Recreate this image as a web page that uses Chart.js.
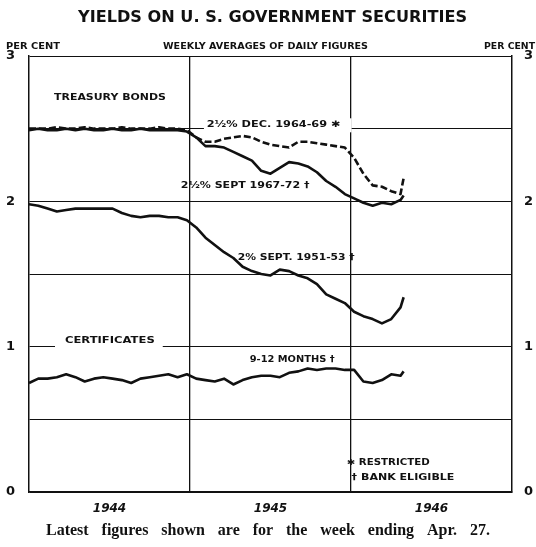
<!DOCTYPE html>
<html>
<head>
<meta charset="utf-8">
<script src="https://cdn.jsdelivr.net/npm/chart.js@4/dist/chart.umd.min.js"></script>
<style>
  html, body { margin: 0; padding: 0; background: #fff; }
  canvas { display: block; }
</style>
</head>
<body>
<canvas id="yields" width="536" height="547"></canvas>
<script>
// weeks since Jan 1 1944 (last point = week ending Apr. 27, 1946)
var weeks = [0, 3, 6, 9, 12, 15, 18, 21, 24, 27, 30, 33, 36, 39, 42, 45, 48, 51,
  54, 57, 60, 63, 66, 69, 72, 75, 78, 81, 84, 87, 90, 93, 96, 99, 102, 105,
  108, 111, 114, 117, 120, 121];

var decBonds = [2.50, 2.50, 2.50, 2.51, 2.50, 2.50, 2.51, 2.50, 2.50, 2.50, 2.51, 2.50,
  2.50, 2.50, 2.51, 2.50, 2.50, 2.49, 2.44, 2.41, 2.41, 2.43, 2.44, 2.45, 2.44,
  2.41, 2.39, 2.38, 2.37, 2.41, 2.41, 2.40, 2.39, 2.38, 2.37, 2.30, 2.19, 2.11,
  2.10, 2.07, 2.05, 2.16];

var septBonds = [2.49, 2.50, 2.49, 2.49, 2.50, 2.49, 2.50, 2.49, 2.49, 2.50, 2.49, 2.49,
  2.50, 2.49, 2.49, 2.49, 2.49, 2.48, 2.44, 2.38, 2.38, 2.37, 2.34, 2.31, 2.28,
  2.21, 2.19, 2.23, 2.27, 2.26, 2.24, 2.20, 2.14, 2.10, 2.05, 2.02, 1.99, 1.97,
  1.99, 1.98, 2.01, 2.04];

var twoPct = [1.98, 1.97, 1.95, 1.93, 1.94, 1.95, 1.95, 1.95, 1.95, 1.95, 1.92, 1.90,
  1.89, 1.90, 1.90, 1.89, 1.89, 1.87, 1.82, 1.75, 1.70, 1.65, 1.61, 1.55, 1.52,
  1.50, 1.49, 1.53, 1.52, 1.49, 1.47, 1.43, 1.36, 1.33, 1.30, 1.24, 1.21, 1.19,
  1.16, 1.19, 1.27, 1.34];

var certs = [0.75, 0.78, 0.78, 0.79, 0.81, 0.79, 0.76, 0.78, 0.79, 0.78, 0.77, 0.75,
  0.78, 0.79, 0.80, 0.81, 0.79, 0.81, 0.78, 0.77, 0.76, 0.78, 0.74, 0.77, 0.79,
  0.80, 0.80, 0.79, 0.82, 0.83, 0.85, 0.84, 0.85, 0.85, 0.84, 0.84, 0.76, 0.75,
  0.77, 0.81, 0.80, 0.83];

var yearLabels = ['1944', '1945', '1946'];
var yearStarts = [0, 52, 104, 156];

function pts(vals) {
  return vals.map(function (v, i) { return { x: weeks[i], y: v }; });
}

// text helpers
function fitText(ctx, text, x1, x2, y, font) {
  ctx.font = font;
  var w = ctx.measureText(text).width;
  ctx.save();
  ctx.translate(x1, y);
  ctx.scale((x2 - x1) / w, 1);
  ctx.textAlign = 'left';
  ctx.textBaseline = 'middle';
  ctx.fillText(text, 0, 0);
  ctx.restore();
}

function justify(ctx, text, x1, x2, y, font) {
  ctx.font = font;
  var words = text.split(' ');
  var total = 0;
  words.forEach(function (w) { total += ctx.measureText(w).width; });
  var gap = (x2 - x1 - total) / (words.length - 1);
  var x = x1;
  ctx.textAlign = 'left';
  ctx.textBaseline = 'middle';
  words.forEach(function (w) {
    ctx.fillText(w, x, y);
    x += ctx.measureText(w).width + gap;
  });
}

// labels inside the plot, placed in data units (week range, value)
var notes = [
  { text: 'TREASURY BONDS', from: 8.1, to: 44.2, at: 2.71 },
  { text: '2½% DEC. 1964-69 ✱', from: 57.4, to: 100.6, at: 2.53, gap: [56.5, 104.2] },
  { text: '2½% SEPT 1967-72 †', from: 49, to: 90.6, at: 2.11 },
  { text: '2% SEPT. 1951-53 †', from: 67.4, to: 105.2, at: 1.61 },
  { text: '9-12 MONTHS †', from: 71.3, to: 98.7, at: 0.91 },
  { text: 'CERTIFICATES', from: 11.6, to: 40.6, at: 1.04, gap: [8.4, 43.2] },
  { text: '✱ RESTRICTED', from: 102.6, to: 129.4, at: 0.20, small: true },
  { text: '† BANK ELIGIBLE', from: 104.2, to: 137.4, at: 0.096, small: true }
];

var labelPlugin = {
  id: 'labels',
  beforeDatasetsDraw: function (chart) {
    var ctx = chart.ctx, xs = chart.scales.x, ys = chart.scales.y;
    ctx.save();
    notes.forEach(function (n) {
      var y = ys.getPixelForValue(n.at);
      if (n.gap) {
        ctx.fillStyle = '#fff';
        ctx.fillRect(xs.getPixelForValue(n.gap[0]), y - 6, xs.getPixelForValue(n.gap[1]) - xs.getPixelForValue(n.gap[0]), 14);
      }
      ctx.fillStyle = '#111';
      fitText(ctx, n.text, xs.getPixelForValue(n.from), xs.getPixelForValue(n.to), y,
        n.small ? 'bold 8px "DejaVu Sans"' : 'bold 9px "DejaVu Sans"');
    });
    ctx.restore();
  },
  afterDraw: function (chart) {
    var ctx = chart.ctx;
    ctx.save();
    ctx.fillStyle = '#111';
    fitText(ctx, 'YIELDS ON U. S. GOVERNMENT SECURITIES', 78, 467, 18, 'bold 15px "DejaVu Sans"');
    fitText(ctx, 'PER CENT', 6, 60, 47, 'bold 9px "DejaVu Sans"');
    fitText(ctx, 'WEEKLY AVERAGES OF DAILY FIGURES', 163, 368, 47, 'bold 9px "DejaVu Sans"');
    fitText(ctx, 'PER CENT', 484, 535, 47, 'bold 9px "DejaVu Sans"');
    justify(ctx, 'Latest figures shown are for the week ending Apr. 27.', 46, 490, 531, 'bold 16px "Liberation Serif"');
    ctx.restore();
  }
};

var ctx1 = document.getElementById('yields').getContext('2d');

new Chart(ctx1, {
  type: 'line',
  data: {
    datasets: [
      { label: '2½% Sept. 1967-72', data: pts(septBonds), borderColor: '#111', borderWidth: 2.6 },
      { label: '2½% Dec. 1964-69', data: pts(decBonds), borderColor: '#111', borderWidth: 2.6, borderDash: [7, 3] },
      { label: '2% Sept. 1951-53', data: pts(twoPct), borderColor: '#111', borderWidth: 2.6 },
      { label: '9-12 months', data: pts(certs), borderColor: '#111', borderWidth: 2.6 }
    ]
  },
  options: {
    responsive: false,
    animation: false,
    devicePixelRatio: 1,
    layout: { padding: { top: 56, left: 0, right: 0, bottom: 0 } },
    elements: { point: { radius: 0 }, line: { tension: 0, borderJoinStyle: 'round' } },
    plugins: { legend: { display: false }, tooltip: { enabled: false } },
    scales: {
      x: {
        type: 'linear',
        min: 0,
        max: 156,
        afterBuildTicks: function (s) {
          s.ticks = [0, 26, 52, 78, 104, 130, 156].map(function (v) { return { value: v }; });
        },
        afterFit: function (s) { s.height = 55; },
        grid: {
          drawTicks: false,
          lineWidth: 1.3,
          color: function (c) {
            var v = c.tick ? c.tick.value : -1;
            return (v === 52 || v === 104) ? '#111' : 'rgba(0,0,0,0)';
          }
        },
        border: { display: true, color: '#111', width: 1.5 },
        ticks: {
          autoSkip: false,
          maxRotation: 0,
          padding: 10,
          color: '#111',
          font: { family: 'DejaVu Sans', size: 12, weight: 'bold', style: 'italic' },
          callback: function (v) {
            var i = yearStarts.indexOf(v - 26);
            return (v % 52 === 26 && i >= 0) ? yearLabels[i] : '';
          }
        }
      },
      y: {
        position: 'left',
        min: 0,
        max: 3,
        afterFit: function (s) { s.width = 29; },
        grid: { drawTicks: false, color: '#111', lineWidth: 1 },
        border: { display: true, color: '#111', width: 1.5 },
        ticks: {
          stepSize: 0.5,
          padding: 14,
          color: '#111',
          font: { family: 'DejaVu Sans', size: 13, weight: 'bold' },
          callback: function (v) { return Number.isInteger(v) ? v : ''; }
        }
      },
      y2: {
        position: 'right',
        min: 0,
        max: 3,
        afterFit: function (s) { s.width = 24; },
        grid: { display: false, drawTicks: false },
        border: { display: true, color: '#111', width: 1.5 },
        ticks: {
          stepSize: 0.5,
          padding: 12,
          color: '#111',
          font: { family: 'DejaVu Sans', size: 13, weight: 'bold' },
          callback: function (v) { return Number.isInteger(v) ? v : ''; }
        }
      }
    }
  },
  plugins: [labelPlugin]
});
</script>
</body>
</html>
